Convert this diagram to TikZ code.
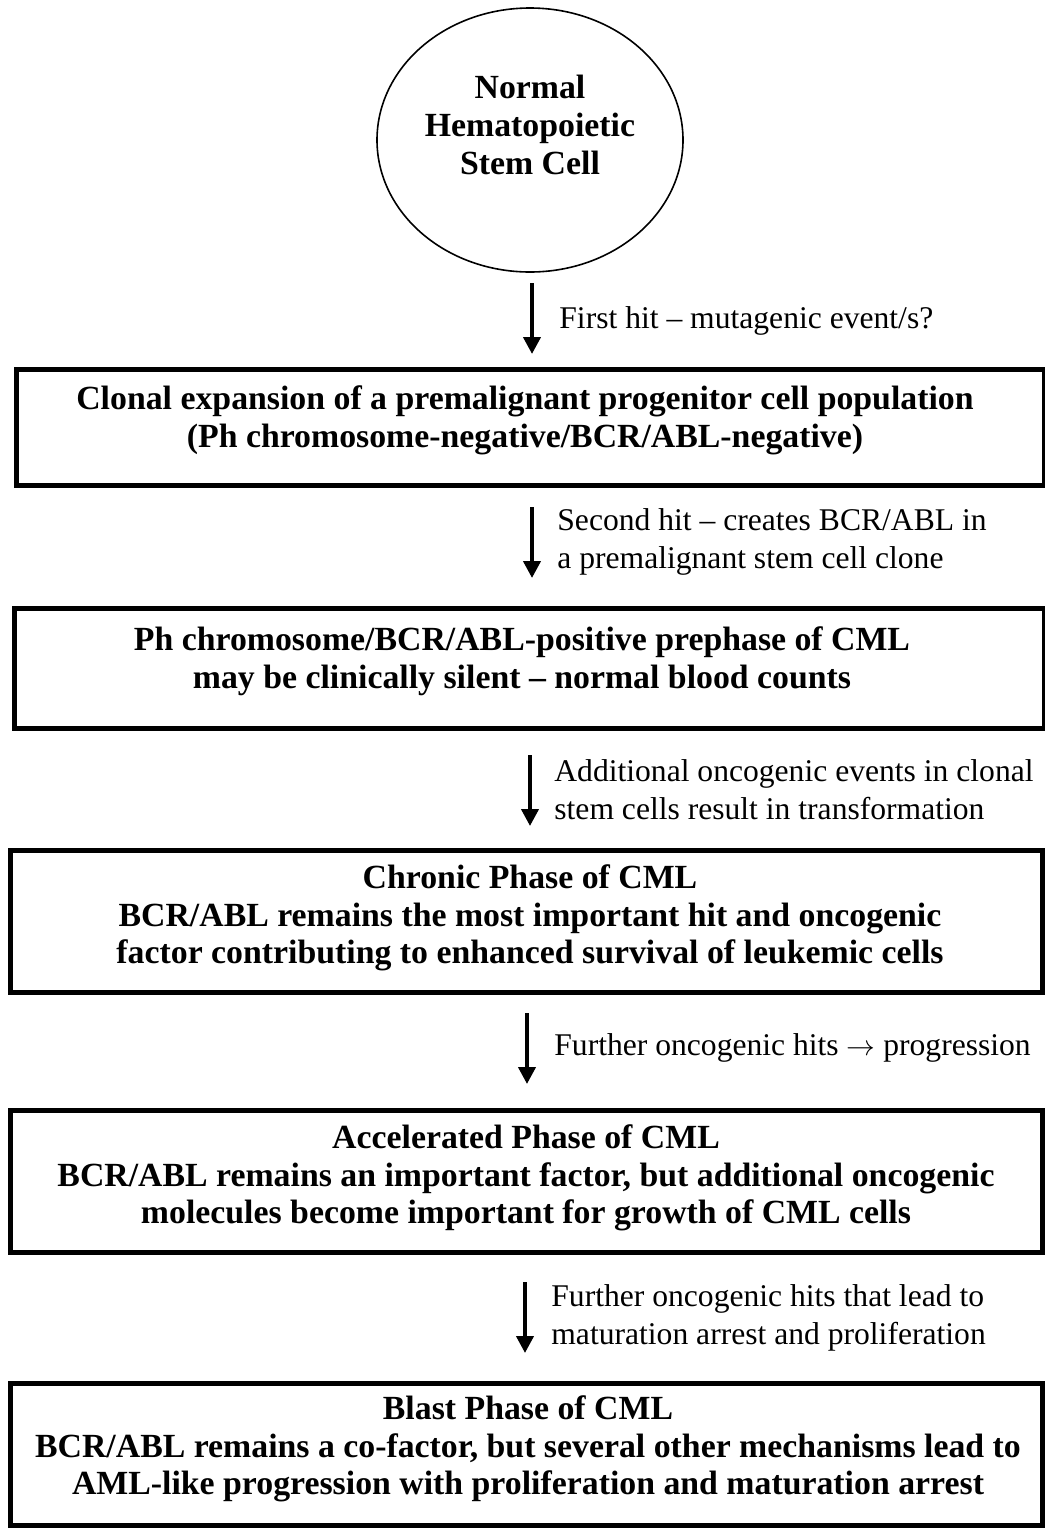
\documentclass[tikz,border=0pt]{standalone}
\usepackage{fontspec}
\setmainfont{Liberation Serif}
\usetikzlibrary{shapes.geometric,arrows.meta}
\begin{document}
\begin{tikzpicture}[x=0.5pt,y=-0.5pt,
  box/.style={draw, line width=2.5pt, rectangle, inner sep=0pt},
  cell/.style={draw, ellipse, line width=0.8pt, inner sep=0pt, minimum width=153pt, minimum height=132pt},
  boxtext/.style={font=\bfseries\fontsize{16.9}{18.9}\selectfont, align=center, inner sep=0pt},
  lbl/.style={font=\fontsize{15.8}{19}\selectfont, align=left, anchor=west, inner sep=0pt},
  arr/.style={line width=2pt, -{Triangle[width=8.5pt,length=8.5pt]}}]
\useasboundingbox (0,0) rectangle (1045,1528);

% stem cell
\node[cell] (hsc) at (530,140) {};
\node[boxtext] (hsct) at (530,125) {Normal\\Hematopoietic\\Stem Cell};

% boxes
\node[box, minimum width=514pt, minimum height=58pt] (b1) at (530,427) {};
\node[boxtext] (t1) at (525,420) {Clonal expansion of a premalignant progenitor cell population\\(Ph chromosome-negative/BCR/ABL-negative)};

\node[box, minimum width=514.75pt, minimum height=60pt] (b2) at (529.25,668) {};
\node[boxtext] (t2) at (522,661) {Ph chromosome/BCR/ABL-positive prephase of CML\\may be clinically silent -- normal blood counts};

\node[box, minimum width=516pt, minimum height=71pt] (b3) at (526,921) {};
\node[boxtext] (t3) at (530,918) {Chronic Phase of CML\\BCR/ABL remains the most important hit and oncogenic\\factor contributing to enhanced survival of leukemic cells};

\node[box, minimum width=515.75pt, minimum height=71pt] (b4) at (526.25,1181) {};
\node[boxtext] (t4) at (526,1178) {Accelerated Phase of CML\\BCR/ABL remains an important factor, but additional oncogenic\\molecules become important for growth of CML cells};

\node[box, minimum width=515.75pt, minimum height=71pt] (b5) at (526.25,1454) {};
\node[boxtext] (t5) at (528,1449) {Blast Phase of CML\\BCR/ABL remains a co-factor, but several other mechanisms lead to\\AML-like progression with proliferation and maturation arrest};

% arrows
\coordinate (a1s) at (532,283); \coordinate (a1e) at (532,354);
\coordinate (a2s) at (532,507); \coordinate (a2e) at (532,578);
\coordinate (a3s) at (530,755); \coordinate (a3e) at (530,826);
\coordinate (a4s) at (527,1013); \coordinate (a4e) at (527,1084);
\coordinate (a5s) at (525,1282); \coordinate (a5e) at (525,1353);
\draw[arr] (a1s) -- (a1e);
\draw[arr] (a2s) -- (a2e);
\draw[arr] (a3s) -- (a3e);
\draw[arr] (a4s) -- (a4e);
\draw[arr] (a5s) -- (a5e);

% labels
\node[lbl] (l1) at (559,321) {First hit -- mutagenic event/s?};
\node[lbl] (l2) at (557,542) {Second hit -- creates BCR/ABL in\\a premalignant stem cell clone};
\node[lbl] (l3) at (554,790) {Additional oncogenic events in clonal\\stem cells result in transformation};
\node[lbl] (l4) at (554,1048) {Further oncogenic hits $\rightarrow$ progression};
\node[lbl] (l5) at (551,1318) {Further oncogenic hits that lead to\\maturation arrest and proliferation};
\end{tikzpicture}
\end{document}
